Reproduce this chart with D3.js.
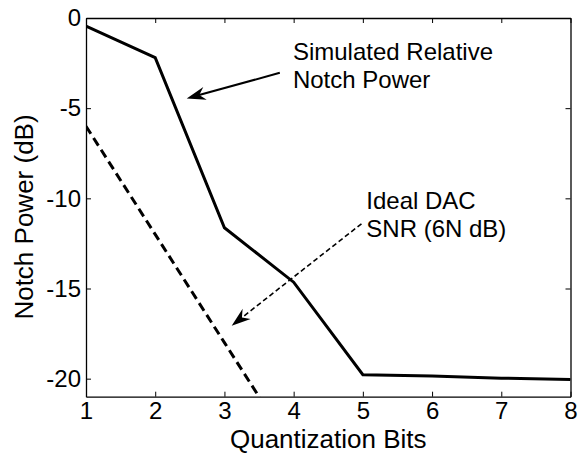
<!DOCTYPE html>
<html>
<head>
<meta charset="utf-8">
<script src="https://cdn.jsdelivr.net/npm/d3@7/dist/d3.min.js"></script>
<style>
  html, body { margin: 0; padding: 0; background: #fff; }
  svg text { font-family: "Liberation Sans", Arial, sans-serif; fill: #000; }
</style>
</head>
<body>
<div id="chart"></div>
<script>
// Quantization bits vs notch power
const bits = [1, 2, 3, 4, 5, 6, 7, 8];
const simulatedPower = [-0.45, -2.2, -11.63, -14.65, -19.78, -19.85, -19.97, -20.04];
const idealBits = [1, 2, 3, 4];
const idealSNR = [-6, -12, -18, -24];
const xTicks = [1, 2, 3, 4, 5, 6, 7, 8];
const yTicks = [0, -5, -10, -15, -20];

(function(){
    const width = 579, height = 454;
    const margin = { top: 18, right: 8.5, bottom: 57.3, left: 86 };
    const w = width - margin.left - margin.right;
    const h = height - margin.top - margin.bottom;
    const fs = 24;      // ticks + annotations
    const fsLabel = 26; // axis titles

    const svg = d3.select("#chart").append("svg")
        .attr("width", width)
        .attr("height", height);

    const g = svg.append("g")
        .attr("transform", `translate(${margin.left},${margin.top})`);

    const x = d3.scaleLinear().domain([1, 8]).range([0, w]);
    const y = d3.scaleLinear().domain([-21, 0]).range([h, 0]);

    // clip for the lines
    svg.append("defs").append("clipPath").attr("id", "plotclip")
        .append("rect").attr("width", w).attr("height", h);

    // axes: ticks pointing in, MATLAB style box
    const tickLen = 5;
    const fmt = d3.format("d");
    const xAxis = g.append("g").attr("transform", `translate(0,${h})`)
        .call(d3.axisBottom(x).tickValues(xTicks).tickFormat(fmt).tickSizeInner(-tickLen).tickSizeOuter(0).tickPadding(5));
    const xTop = g.append("g")
        .call(d3.axisTop(x).tickValues(xTicks).tickSizeInner(-tickLen).tickSizeOuter(0).tickFormat(""));
    const yAxis = g.append("g")
        .call(d3.axisLeft(y).tickValues(yTicks).tickSizeInner(-tickLen).tickSizeOuter(0).tickPadding(5)
            .tickFormat(d => d === 0 ? "0" : "-" + Math.abs(d)));
    const yRight = g.append("g").attr("transform", `translate(${w},0)`)
        .call(d3.axisRight(y).tickValues(yTicks).tickSizeInner(-tickLen).tickSizeOuter(0).tickFormat(""));

    [xAxis, xTop, yAxis, yRight].forEach(a => {
        a.selectAll("path.domain").attr("stroke", "#000").attr("stroke-width", 1.3);
        a.selectAll(".tick line").attr("stroke", "#000").attr("stroke-width", 1);
        a.selectAll(".tick text")
            .style("font-family", '"Liberation Sans", Arial, sans-serif')
            .style("font-size", fs + "px")
            .attr("fill", "#000");
    });

    const line = d3.line().x(d => x(d[0])).y(d => y(d[1]));

    const plot = g.append("g").attr("clip-path", "url(#plotclip)");

    plot.append("path")
        .datum(bits.map((b, i) => [b, simulatedPower[i]]))
        .attr("d", line)
        .attr("fill", "none")
        .attr("stroke", "#000")
        .attr("stroke-width", 3)
        .attr("stroke-linejoin", "miter");

    plot.append("path")
        .datum(idealBits.map((b, i) => [b, idealSNR[i]]))
        .attr("d", line)
        .attr("fill", "none")
        .attr("stroke", "#000")
        .attr("stroke-width", 3)
        .attr("stroke-dasharray", "9,5");

    // annotations (data coordinates)
    function arrow(from, to, dashed) {
        const x0 = x(from[0]), y0 = y(from[1]);
        const x1 = x(to[0]), y1 = y(to[1]);
        const ang = Math.atan2(y1 - y0, x1 - x0) * 180 / Math.PI;
        const len = Math.hypot(x1 - x0, y1 - y0);
        const a = g.append("g").attr("transform", `translate(${x1},${y1}) rotate(${ang})`);
        a.append("line")
            .attr("x1", -len).attr("y1", 0)
            .attr("x2", -10).attr("y2", 0)
            .attr("stroke", "#000")
            .attr("stroke-width", dashed ? 1.6 : 2)
            .attr("stroke-dasharray", dashed ? "5,3" : null);
        a.append("path")
            .attr("d", "M0,0 L-19,-6.5 L-13,0 L-19,6.5 Z")
            .attr("fill", "#000");
    }
    arrow([3.80, -3.04], [2.455, -4.46], false);
    arrow([4.98, -11.41], [3.105, -17.06], true);

    function label(lines, px, py) {
        const t = g.append("text")
            .attr("x", x(px)).attr("y", y(py))
            .style("font-size", fs + "px");
        lines.forEach((s, i) => {
            t.append("tspan").attr("x", x(px)).attr("dy", i === 0 ? 0 : 27.5).text(s);
        });
    }
    label(["Simulated Relative", "Notch Power"], 3.99, -2.33);
    label(["Ideal DAC", "SNR (6N dB)"], 5.05, -10.6);

    // axis titles
    svg.append("text")
        .attr("x", margin.left + w / 2)
        .attr("y", 447.5)
        .attr("text-anchor", "middle")
        .style("font-size", fsLabel + "px")
        .text("Quantization Bits");

    svg.append("text")
        .attr("transform", `translate(33,217) rotate(-90)`)
        .attr("text-anchor", "middle")
        .style("font-size", fsLabel + "px")
        .text("Notch Power (dB)");
})();
</script>
</body>
</html>
